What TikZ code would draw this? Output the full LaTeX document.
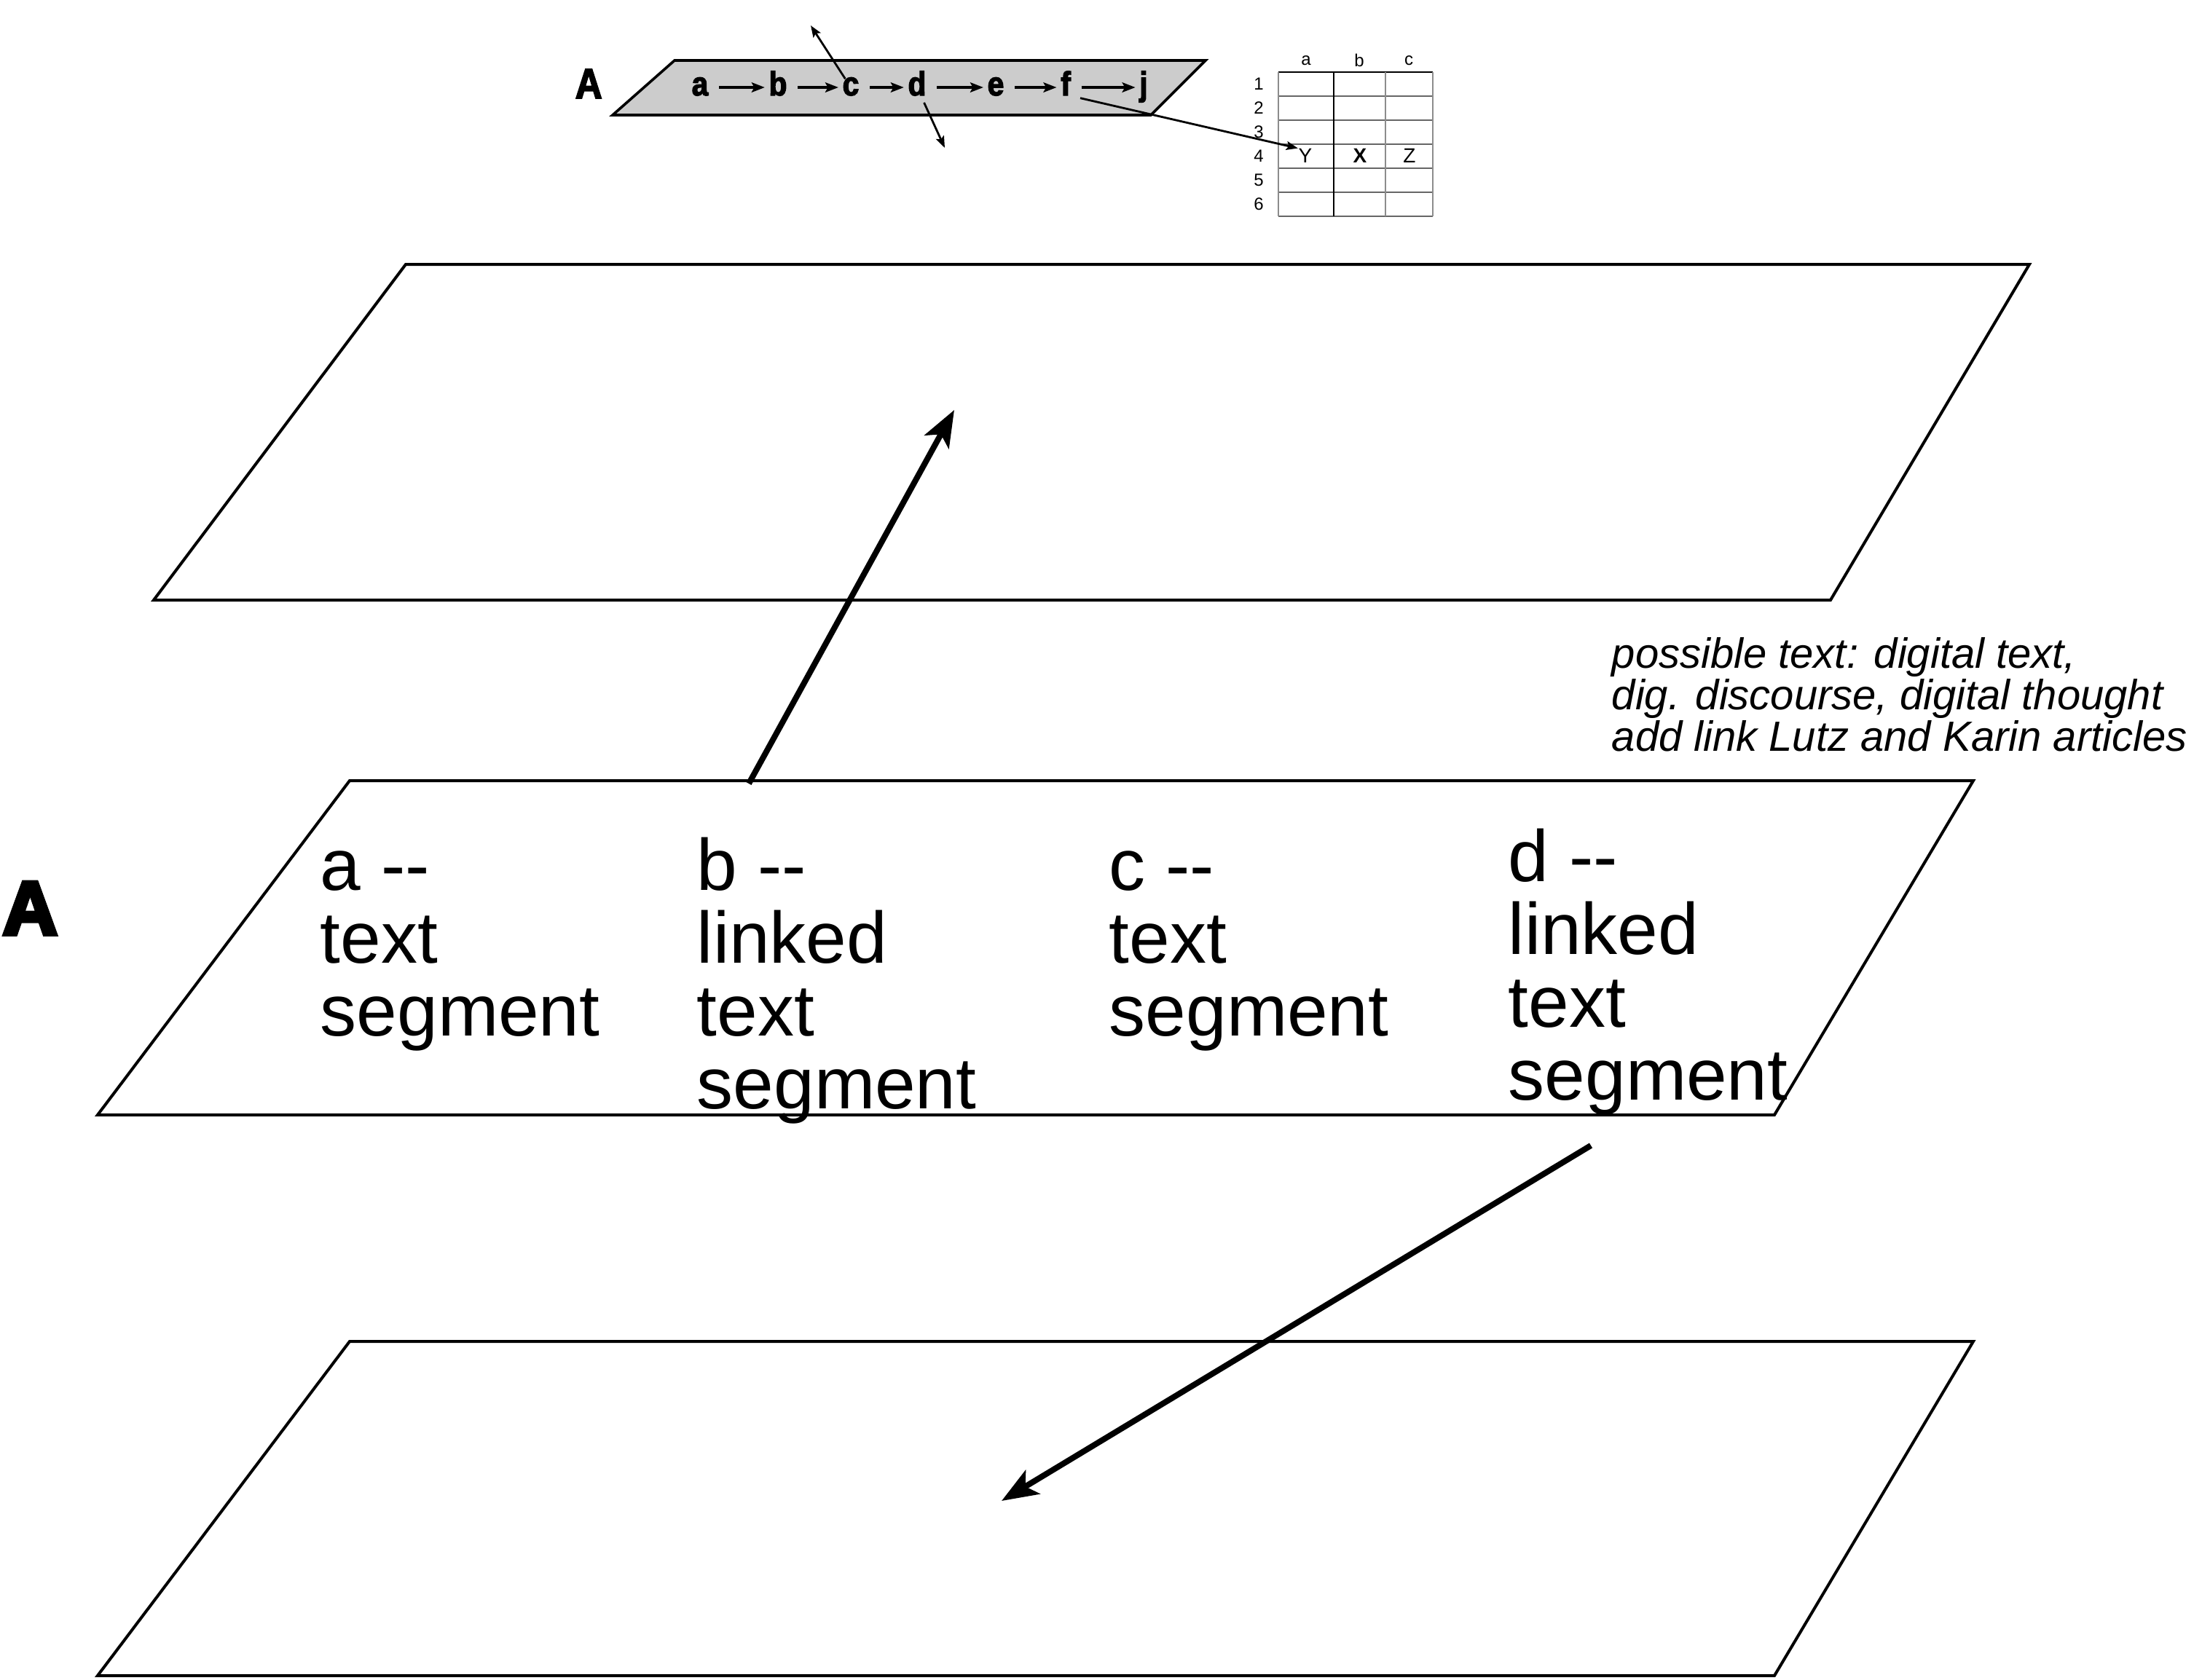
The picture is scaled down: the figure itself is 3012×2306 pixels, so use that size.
\documentclass[tikz,border=0pt]{standalone}
\usepackage{fontspec}
\setmainfont{Liberation Sans}
\newfontfamily\chainfont{Liberation Sans}[FakeStretch=0.88, FakeBold=3]
\newfontfamily\blackfont{Liberation Sans}[FakeBold=5.5]
\usetikzlibrary{arrows.meta}
\begin{document}
\begin{tikzpicture}[x=0.25pt,y=-0.25pt,
  plane/.style={draw=black, line width=1pt, line join=miter},
  smallplane/.style={draw=black, line width=0.9pt, fill=black!20, line join=miter},
  bigarrow/.style={line width=2pt, -{Stealth[length=12.5pt,width=9.5pt,inset=3pt]}},
  smallarrow/.style={line width=0.7pt, -{Stealth[length=4pt,width=3pt,inset=0.8pt]}},
  chainarrow/.style={line width=0.8pt, -{Stealth[length=4.5pt,width=3.4pt,inset=0.9pt]}, shorten <=3.5pt, shorten >=1.25pt},
  letter/.style={inner sep=0pt, anchor=base, text height=5.5pt, text depth=0pt,
    font=\chainfont\bfseries\fontsize{11.5pt}{11.5pt}\selectfont},
  segtext/.style={inner sep=0pt, anchor=north west, align=left,
    font=\fontsize{25pt}{25pt}\selectfont},
  tabnum/.style={inner sep=0pt, font=\fontsize{6pt}{6pt}\selectfont},
  tabcell/.style={inner sep=0pt, font=\fontsize{7pt}{7pt}\selectfont},
  gridline/.style={draw=black!45, line width=0.4pt},
  gridlinedark/.style={draw=black, line width=0.4pt}
]
\useasboundingbox (0,0) rectangle (3012,2306);

% ---------- small top diagram ----------
\draw[smallplane] (926,83) -- (1655,83) -- (1580,158) -- (841,158) -- cycle;
\node[inner sep=0pt, anchor=base west, font=\chainfont\bfseries\fontsize{14.5pt}{14.5pt}\selectfont] (Asmall) at (789,135) {A};

\node[letter] (la) at (961,131) {a};
\node[letter] (lb) at (1068,131) {b};
\node[letter] (lc) at (1168,131) {c};
\node[letter] (ld) at (1259,131) {d};
\node[letter] (le) at (1367,131) {e};
\node[letter] (lf) at (1463,131) {f};
\node[letter] (lj) at (1570,131) {j};

\draw[chainarrow] (la) -- (lb);
\draw[chainarrow] (lb) -- (lc);
\draw[chainarrow] (lc) -- (ld);
\draw[chainarrow] (ld) -- (le);
\draw[chainarrow] (le) -- (lf);
\draw[chainarrow] (lf) -- (lj);

\coordinate (cup) at (1113,35);
\coordinate (ddown) at (1297,203);
\draw[smallarrow] (lc) -- (cup);
\draw[smallarrow, shorten <=2.5pt] (ld) -- (ddown);

% ---------- small table ----------
\foreach \yy in {132,165,198,231,264,297} {
  \draw[gridline, draw=black!60] (1755,\yy) -- (1967,\yy);
}
\draw[gridlinedark] (1755,99) -- (1967,99);
\draw[gridline] (1755,99) -- (1755,297);
\draw[gridlinedark] (1831,99) -- (1831,297);
\draw[gridline] (1902,99) -- (1902,297);
\draw[gridline] (1967,99) -- (1967,297);

\node[tabnum] (ha) at (1793,83) {a};
\node[tabnum] (hb) at (1866,83) {b};
\node[tabnum] (hc) at (1934,83) {c};
\node[tabnum] (r1) at (1728,115) {1};
\node[tabnum] (r2) at (1728,148) {2};
\node[tabnum] (r3) at (1728,181) {3};
\node[tabnum] (r4) at (1728,214) {4};
\node[tabnum] (r5) at (1728,247) {5};
\node[tabnum] (r6) at (1728,280) {6};
\node[tabcell] (Y) at (1792,214) {Y};
\node[tabcell, font=\bfseries\fontsize{7pt}{7pt}\selectfont] (X) at (1867,214) {X};
\node[tabcell] (Z) at (1935,214) {Z};

\draw[smallarrow, shorten <=3.2pt] (lf.south east) -- (Y.north west);

% ---------- big planes ----------
\draw[plane] (557,363) -- (2786,363) -- (2513,824) -- (211,824) -- cycle;
\draw[plane] (480,1072) -- (2709,1072) -- (2436,1531) -- (134,1531) -- cycle;
\draw[plane] (480,1842) -- (2709,1842) -- (2436,2301) -- (134,2301) -- cycle;

\node[inner sep=0pt, anchor=base west, font=\blackfont\bfseries\fontsize{26pt}{26pt}\selectfont] (Abig) at (3,1283) {A};

\node[segtext] (sa) at (439,1146) {\rule{0pt}{19pt}a -{}-\\text\\segment};
\node[segtext] (sb) at (956,1146) {\rule{0pt}{19pt}b -{}-\\linked\\text\\segment};
\node[segtext] (sc) at (1522,1146) {\rule{0pt}{19pt}c -{}-\\text\\segment};
\node[segtext] (sd) at (2070,1134) {\rule{0pt}{19pt}d -{}-\\linked\\text\\segment};

\node[inner sep=0pt, anchor=north west, align=left,
  font=\itshape\fontsize{14.5pt}{14.25pt}\selectfont] (note) at (2212,869)
  {\rule{0pt}{12pt}possible text: digital text,\\dig. discourse, digital thought\\add link Lutz and Karin articles};

% ---------- big arrows ----------
\coordinate (up0) at (1028,1076);
\coordinate (up1) at (1310,563);
\coordinate (dn0) at (2184,1573);
\coordinate (dn1) at (1375,2061);
\draw[bigarrow] (up0) -- (up1);
\draw[bigarrow] (dn0) -- (dn1);
\end{tikzpicture}
\end{document}
